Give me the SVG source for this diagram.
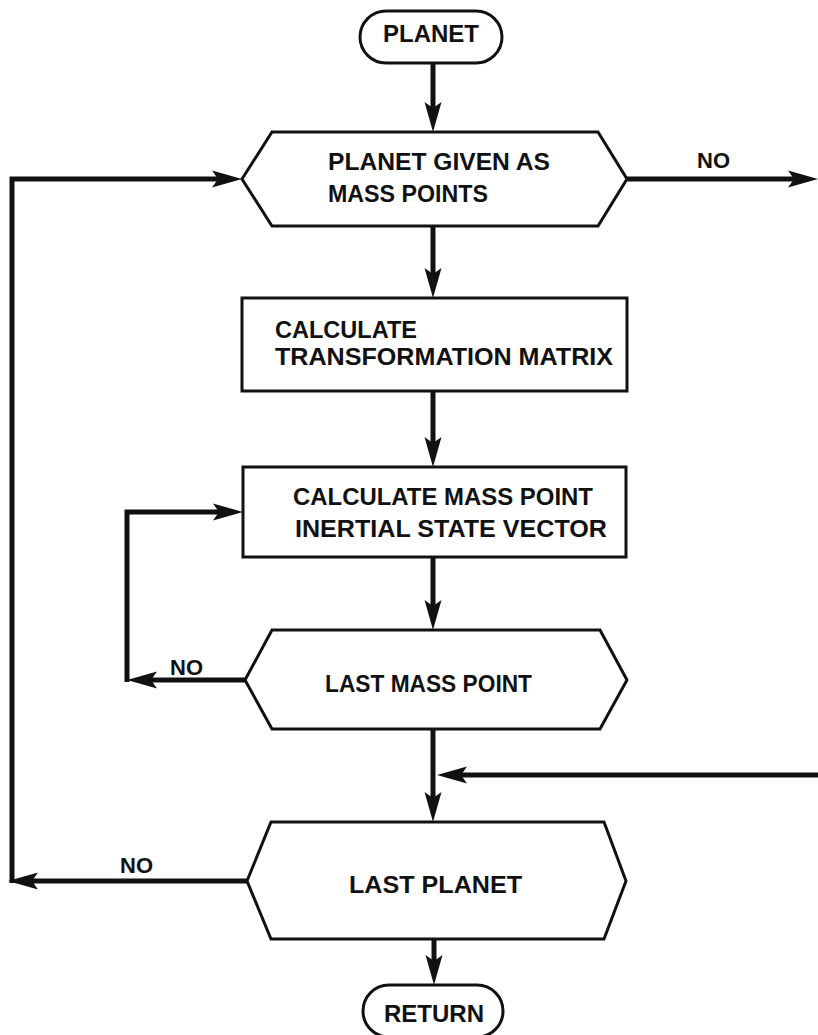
<svg xmlns="http://www.w3.org/2000/svg" width="818" height="1035" viewBox="0 0 818 1035">
  <style>
    .shape { fill: #fff; stroke: #111; stroke-width: 3; stroke-linejoin: miter; }
    .conn { fill: none; stroke: #111; stroke-width: 5; stroke-linejoin: miter; }
    .t { font-family: "Liberation Sans", Arial, sans-serif; font-weight: bold; font-size: 24px; fill: #111; }
    .lbl { font-family: "Liberation Sans", Arial, sans-serif; font-weight: bold; font-size: 22px; fill: #111; }
  </style>
  <defs>
    <marker id="arr" viewBox="0 0 30 18" refX="18" refY="9" markerWidth="30" markerHeight="18" markerUnits="userSpaceOnUse" orient="auto">
      <path d="M0,0.5 L30,9 L0,17.5 L6,9 Z" fill="#111"/>
    </marker>
  </defs>
  <rect width="818" height="1035" fill="#fff"/>

  <g id="connectors">
    <path class="conn" d="M433,63 V120" marker-end="url(#arr)"/>
    <path class="conn" d="M433,226 V286" marker-end="url(#arr)"/>
    <path class="conn" d="M627,179 H806" marker-end="url(#arr)"/>
    <path class="conn" d="M433,391 V455" marker-end="url(#arr)"/>
    <path class="conn" d="M433,557 V618" marker-end="url(#arr)"/>
    <path class="conn" d="M245,680 H139" marker-end="url(#arr)"/>
    <path class="conn" d="M127,682 V512 H231" marker-end="url(#arr)"/>
    <path class="conn" d="M433,728 V810" marker-end="url(#arr)"/>
    <path class="conn" d="M818,775 H449" marker-end="url(#arr)"/>
    <path class="conn" d="M247,881 H20" marker-end="url(#arr)"/>
    <path class="conn" d="M12,883 V179 H230" marker-end="url(#arr)"/>
    <path class="conn" d="M434,939 V973" marker-end="url(#arr)"/>
    <text class="lbl" x="697" y="168">NO</text>
    <text class="lbl" x="170" y="675">NO</text>
    <text class="lbl" x="120" y="873">NO</text>
  </g>

  <g id="start">
    <rect class="shape" x="360" y="11" width="142" height="52" rx="26" ry="26"/>
    <text class="t" x="431" y="42" text-anchor="middle">PLANET</text>
  </g>

  <g id="planet-given">
    <polygon class="shape" points="242,179 272,132 598,132 627,179 598,226 272,226"/>
    <text class="t" x="328" y="170" textLength="222" lengthAdjust="spacingAndGlyphs">PLANET GIVEN AS</text>
    <text class="t" x="328" y="202" textLength="160" lengthAdjust="spacingAndGlyphs">MASS POINTS</text>
  </g>

  <g id="calc-matrix">
    <rect class="shape" x="242" y="298" width="385" height="93"/>
    <text class="t" x="275" y="338" textLength="142" lengthAdjust="spacingAndGlyphs">CALCULATE</text>
    <text class="t" x="275" y="365" textLength="338" lengthAdjust="spacingAndGlyphs">TRANSFORMATION MATRIX</text>
  </g>

  <g id="calc-state">
    <rect class="shape" x="243" y="467" width="383" height="90"/>
    <text class="t" x="293" y="505" textLength="300" lengthAdjust="spacingAndGlyphs">CALCULATE MASS POINT</text>
    <text class="t" x="295" y="537" textLength="312" lengthAdjust="spacingAndGlyphs">INERTIAL STATE VECTOR</text>
  </g>

  <g id="last-mass-point">
    <polygon class="shape" points="245,680 272,630 600,630 627,680 600,729 272,729"/>
    <text class="t" x="325" y="692" textLength="207" lengthAdjust="spacingAndGlyphs">LAST MASS POINT</text>
  </g>

  <g id="last-planet">
    <polygon class="shape" points="247,881 271,822 604,822 626,881 604,939 271,939"/>
    <text class="t" x="349" y="893" textLength="173" lengthAdjust="spacingAndGlyphs">LAST PLANET</text>
  </g>

  <g id="return">
    <rect class="shape" x="363" y="985" width="140" height="52" rx="26" ry="26"/>
    <text class="t" x="434" y="1022" text-anchor="middle">RETURN</text>
  </g>
</svg>
